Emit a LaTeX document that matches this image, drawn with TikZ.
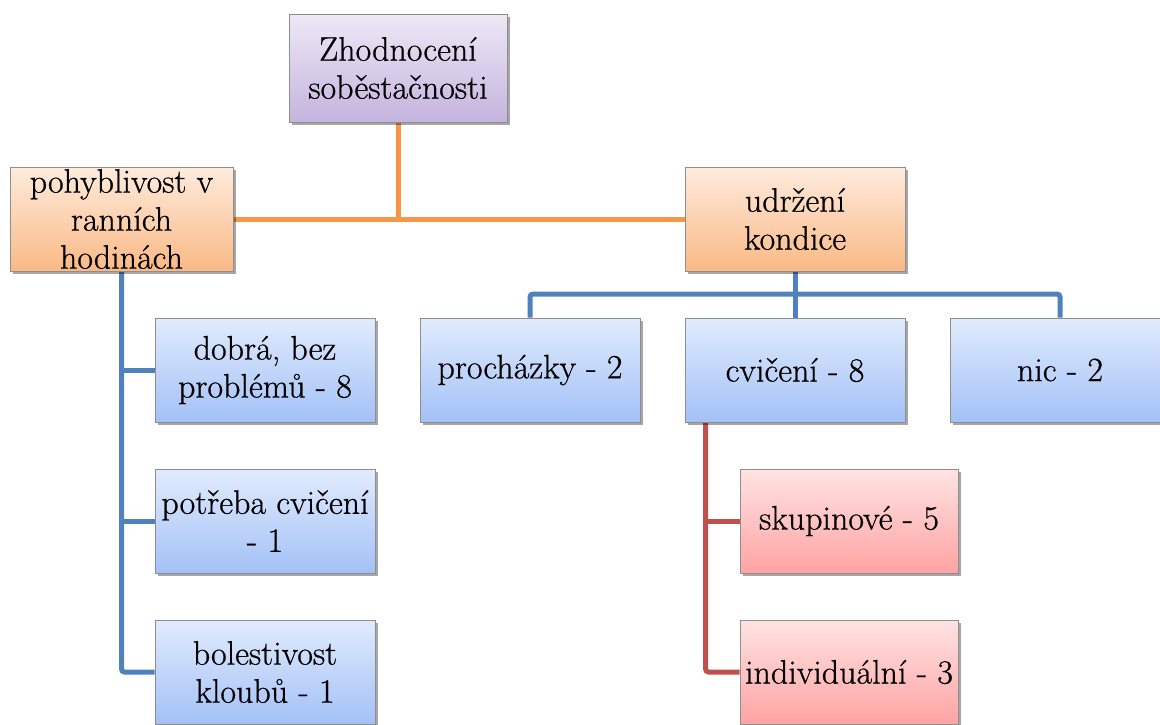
\documentclass[tikz,border=0pt]{standalone}
\usepackage{fontspec}
\newfontfamily\boxfont{Latin Modern Roman}[FakeBold=0.6]
\usetikzlibrary{shadows,backgrounds}

\definecolor{edgegrey}{HTML}{8E8E8E}
\definecolor{purpTop}{HTML}{EEE8F6}
\definecolor{purpBot}{HTML}{C4B4DE}
\definecolor{orTop}{HTML}{FEEBDD}
\definecolor{orBot}{HTML}{FAB985}
\definecolor{blTop}{HTML}{E1EBFD}
\definecolor{blBot}{HTML}{A3C1F7}
\definecolor{rdTop}{HTML}{FFE3E3}
\definecolor{rdBot}{HTML}{FFA3A3}
\definecolor{lnOrange}{HTML}{F79646}
\definecolor{lnBlue}{HTML}{4F81BD}
\definecolor{lnRed}{HTML}{C0504D}

\tikzset{
  box/.style={draw=edgegrey, line width=0.8pt, rectangle,
    minimum width=220pt, minimum height=104pt, inner sep=0pt,
    align=center, font=\boxfont\fontsize{34}{38}\selectfont,
    drop shadow={shadow xshift=2.5pt, shadow yshift=-3pt, opacity=0.35, fill=black}},
  purplebox/.style={box, top color=purpTop, bottom color=purpBot},
  orangebox/.style={box, top color=orTop, bottom color=orBot},
  bluebox/.style={box, top color=blTop, bottom color=blBot},
  redbox/.style={box, top color=rdTop, bottom color=rdBot},
  link/.style={line width=5pt, rounded corners=3pt},
}

\begin{document}
\begin{tikzpicture}[x=1pt, y=-1pt]
  \useasboundingbox (0,0) rectangle (1160,724);
  \clip (0,0) rectangle (1160,724);

  % root
  \node[purplebox, minimum width=218pt, minimum height=108pt] (root) at (398,68) {Zhodnocení\\soběstačnosti};

  % second level
  \node[orangebox, minimum width=223pt] (pohyb) at (121.5,219) {pohyblivost v\\ranních\\hodinách};
  \node[orangebox] (udrz) at (795,219) {udržení\\kondice};

  % children of "pohyblivost"
  \node[bluebox] (dobra) at (265,370) {dobrá, bez\\problémů - 8};
  \node[bluebox] (potreba) at (265,521) {potřeba cvičení\\- 1};
  \node[bluebox] (bolest) at (265,672) {bolestivost\\kloubů - 1};

  % children of "udržení kondice"
  \node[bluebox] (proch) at (530,370) {procházky - 2};
  \node[bluebox] (cvic) at (795,370) {cvičení - 8};
  \node[bluebox] (nic) at (1060,370) {nic - 2};

  % children of "cvičení"
  \node[redbox, minimum width=218pt] (skup) at (849,521) {skupinové - 5};
  \node[redbox, minimum width=218pt] (indiv) at (849,672) {individuální - 3};

  \coordinate (bus) at (795,294);

  \begin{scope}[on background layer]
    % root to second level
    \draw[link, lnOrange] (pohyb.east) -- (udrz.west);
    \draw[link, lnOrange] (root.south) -- (root.south |- pohyb.east);

    % left branch
    \draw[link, lnBlue] (pohyb.south) |- (bolest.west);
    \draw[link, lnBlue] (pohyb.south |- dobra.west) -- (dobra.west);
    \draw[link, lnBlue] (pohyb.south |- potreba.west) -- (potreba.west);

    % right branch
    \draw[link, lnBlue] (udrz.south) -- (cvic.north);
    \draw[link, lnBlue] (proch.north) -- (proch.north |- bus) -- (nic.north |- bus) -- (nic.north);

    % sub-branch of "cvičení"
    \draw[link, lnRed] ([xshift=21pt]cvic.south west) |- (indiv.west);
    \draw[link, lnRed] ([xshift=21pt]cvic.south west |- skup.west) -- (skup.west);
  \end{scope}
\end{tikzpicture}
\end{document}
